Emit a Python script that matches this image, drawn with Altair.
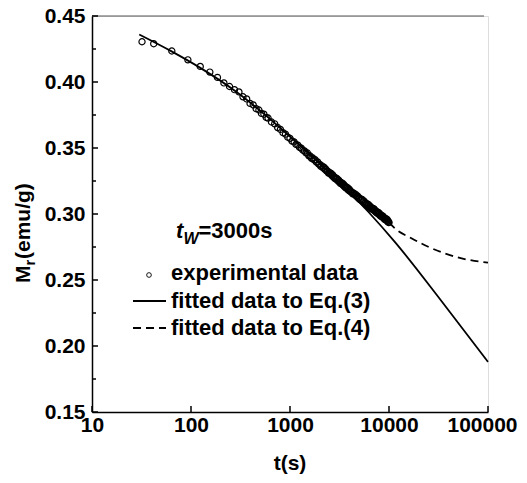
import altair as alt
import pandas as pd

FONT = "Liberation Sans"

exp_t = [32, 42, 64, 93, 124, 155, 185, 215, 245, 275,
         305, 335, 365, 395, 425, 455, 485, 515, 545, 575,
         600, 650, 700, 750, 800, 850, 900, 950, 1000, 1050, 1100, 1150, 1200, 1250, 1300, 1350, 1400, 1450,
         1500, 1550, 1600, 1650, 1700, 1750, 1800, 1850, 1900, 1950, 2000, 2050, 2100, 2150, 2200, 2250,
         2300, 2350, 2400, 2450, 2500, 2550, 2600, 2650, 2700, 2750, 2800, 2850, 2900, 2950, 3000, 3050,
         3100, 3150, 3200, 3250, 3300, 3350, 3400, 3450, 3500, 3550, 3600, 3650, 3700, 3750, 3800, 3850,
         3900, 3950,
         4000, 4100, 4200, 4300, 4400, 4500, 4600, 4700, 4800, 4900, 5000, 5100, 5200, 5300, 5400, 5500,
         5600, 5700, 5800, 5900, 6000, 6100, 6200, 6300, 6400, 6500, 6600, 6700, 6800, 6900, 7000, 7100,
         7200, 7300, 7400, 7500, 7600, 7700, 7800, 7900, 8000, 8100, 8200, 8300, 8400, 8500, 8600, 8700,
         8800, 8900, 9000, 9100, 9200, 9300, 9400, 9500, 9600, 9700, 9800, 9900, 10000]
exp_m = [0.4305, 0.4290, 0.4235, 0.4168, 0.4118, 0.4075, 0.4035, 0.3993, 0.3966, 0.3942,
         0.3925, 0.3888, 0.3872, 0.3838, 0.3826, 0.3798, 0.3788, 0.3762, 0.3756, 0.3731,
         0.3727, 0.3697, 0.3683, 0.3655, 0.3641, 0.3616, 0.3605, 0.3582, 0.3573, 0.3552, 0.3546, 0.3527,
         0.3522, 0.3504, 0.3499, 0.3483, 0.3478, 0.3462,
         0.3462, 0.3441, 0.3439, 0.3422, 0.3424, 0.3410, 0.3411, 0.3392, 0.3395, 0.3377, 0.3376, 0.3360,
         0.3365, 0.3352, 0.3355, 0.3337, 0.3341, 0.3324, 0.3325, 0.3310, 0.3315, 0.3304, 0.3307, 0.3291,
         0.3296, 0.3279, 0.3281, 0.3267, 0.3274, 0.3263, 0.3267, 0.3251, 0.3257, 0.3241, 0.3244, 0.3230,
         0.3237, 0.3227, 0.3232, 0.3216, 0.3222, 0.3207, 0.3210, 0.3198, 0.3205, 0.3195, 0.3200, 0.3185,
         0.3192, 0.3177,
         0.3185, 0.3167, 0.3168, 0.3153, 0.3158, 0.3146, 0.3149, 0.3133, 0.3137, 0.3121, 0.3123, 0.3108,
         0.3114, 0.3103, 0.3108, 0.3092, 0.3097, 0.3081, 0.3084, 0.3070, 0.3077, 0.3067, 0.3072, 0.3056,
         0.3062, 0.3047, 0.3050, 0.3037, 0.3045, 0.3035, 0.3040, 0.3025, 0.3032, 0.3017, 0.3020, 0.3008,
         0.3016, 0.3006, 0.3012, 0.2997, 0.3004, 0.2990, 0.2994, 0.2982, 0.2989, 0.2980, 0.2986, 0.2972,
         0.2979, 0.2965, 0.2969, 0.2958, 0.2966, 0.2957, 0.2963, 0.2949, 0.2957, 0.2943, 0.2947, 0.2936,
         0.2936]

# fitted curve, Eq.(3)
eq3_t = [30, 63, 123, 300, 762, 2260, 6170, 11500, 34000, 100000]
eq3_m = [0.436, 0.4234, 0.4109, 0.3915, 0.3665, 0.3344, 0.3017, 0.2787, 0.2339, 0.188]

# fitted curve, Eq.(4)
eq4_t = [10000, 11500, 17000, 24900, 54200, 100000]
eq4_m = [0.2936, 0.289, 0.2815, 0.2752, 0.2664, 0.2631]

x_ticks = [10, 100, 1000, 10000, 100000]
y_ticks = [0.15, 0.20, 0.25, 0.30, 0.35, 0.40, 0.45]
y_minor = [0.175, 0.225, 0.275, 0.325, 0.375, 0.425]

legend_labels = ["experimental data", "fitted data to Eq.(3)", "fitted data to Eq.(4)"]
tw_parts = ["t", "W", "=3000s"]
ytitle_parts = ["M", "r", "(emu/g)"]
xtitle = "t(s)"

W, H = 396, 396

df_exp = pd.DataFrame({"t": exp_t, "m": exp_m})
df_eq3 = pd.DataFrame({"t": eq3_t, "m": eq3_m})
df_eq4 = pd.DataFrame({"t": eq4_t, "m": eq4_m})
df_xt = pd.DataFrame({"t": x_ticks})
df_yt = pd.DataFrame({"m": y_ticks})
df_ym = pd.DataFrame({"m": y_minor})
dummy = pd.DataFrame({"a": [0]})

xscale = alt.Scale(type="log", domain=[10, 100000], nice=False)
yscale = alt.Scale(domain=[0.15, 0.45], nice=False, zero=False)

xaxis = alt.Axis(values=x_ticks, format="d", title=None, grid=False, ticks=False, tickSize=0,
                 labelFont=FONT, labelFontSize=21, labelFontWeight="bold", labelColor="black",
                 labelPadding=2, labelFlush=False, labelOverlap=False,
                 labelOffset={"condition": {"test": "datum.value >= 100000", "value": -6}, "value": 0},
                 domainColor="black", domainWidth=1.5)
yaxis = alt.Axis(values=y_ticks, format=".2f", title=None, grid=False, ticks=False, tickSize=0,
                 labelFont=FONT, labelFontSize=21, labelFontWeight="bold", labelColor="black",
                 labelPadding=7, labelFlush=False, labelOverlap=False,
                 domainColor="black", domainWidth=1.5)

X = lambda f: alt.X(f, scale=xscale, axis=xaxis)
Y = lambda f: alt.Y(f, scale=yscale, axis=yaxis)

top_border = alt.Chart(dummy).mark_rule(color="#555555", strokeWidth=1).encode(
    x=alt.value(0), x2=alt.value(392), y=alt.value(0))

xt = alt.Chart(df_xt).mark_rule(color="black", strokeWidth=1.5).encode(
    x=X("t:Q"), y=alt.value(H), y2=alt.value(H - 6))
yt = alt.Chart(df_yt).mark_rule(color="black", strokeWidth=1.5).encode(
    y=Y("m:Q"), x=alt.value(0), x2=alt.value(6))
ym = alt.Chart(df_ym).mark_rule(color="black", strokeWidth=1.5).encode(
    y=Y("m:Q"), x=alt.value(0), x2=alt.value(4))

line3 = alt.Chart(df_eq3).mark_line(color="black", strokeWidth=1.8, interpolate="monotone").encode(
    x=X("t:Q"), y=Y("m:Q"))
line4 = alt.Chart(df_eq4).mark_line(color="black", strokeWidth=1.8, strokeDash=[8, 5],
                                    interpolate="monotone").encode(
    x=X("t:Q"), y=Y("m:Q"))
pts = alt.Chart(df_exp).mark_point(shape="circle", filled=False, size=38, color="black",
                                   strokeWidth=1.2, opacity=1).encode(
    x=X("t:Q"), y=Y("m:Q"))

# legend
leg_pt = alt.Chart(dummy).mark_point(shape="circle", filled=False, size=22, color="black",
                                     strokeWidth=0.9, opacity=1).encode(
    x=alt.value(57), y=alt.value(259))
leg_l3 = alt.Chart(dummy).mark_rule(color="black", strokeWidth=1.8).encode(
    x=alt.value(41), x2=alt.value(74), y=alt.value(285))
leg_l4 = alt.Chart(dummy).mark_rule(color="black", strokeWidth=1.8, strokeDash=[8, 5]).encode(
    x=alt.value(41), x2=alt.value(74), y=alt.value(312))

def txt(s, x, y, size=21, style="normal", align="left", baseline="middle", angle=0):
    return alt.Chart(dummy).mark_text(font=FONT, fontSize=size, fontWeight="bold", fontStyle=style,
                                      align=align, baseline=baseline, angle=angle,
                                      color="black").encode(
        x=alt.value(x), y=alt.value(y), text=alt.value(s))

leg_texts = [txt(legend_labels[0], 79, 257, size=22), txt(legend_labels[1], 79, 285, size=22),
             txt(legend_labels[2], 79, 312, size=22)]
tw = [txt(tw_parts[0], 84, 222, size=22, style="italic", baseline="alphabetic"),
      txt(tw_parts[1], 91.5, 228, size=16, style="italic", baseline="alphabetic"),
      txt(tw_parts[2], 106.5, 222, size=22, baseline="alphabetic")]
ytit = [txt(ytitle_parts[0], -62, 267, angle=270, baseline="alphabetic"),
        txt(ytitle_parts[1], -57, 249.5, size=15, angle=270, baseline="alphabetic"),
        txt(ytitle_parts[2], -62, 243, angle=270, baseline="alphabetic")]
xtit = txt(xtitle, 198, 453.5, align="center", baseline="alphabetic")

chart = alt.layer(
    line3, line4, pts, top_border, xt, yt, ym, leg_pt, leg_l3, leg_l4,
    *leg_texts, *tw, *ytit, xtit
).properties(
    width=W, height=H,
    autosize=alt.AutoSizeParams(type="none"),
    padding={"left": 84, "top": 8, "right": 31, "bottom": 62},
).configure_view(stroke=None).configure(background="white")

chart.save("out.html", embed_options={"renderer": "svg", "actions": False})
